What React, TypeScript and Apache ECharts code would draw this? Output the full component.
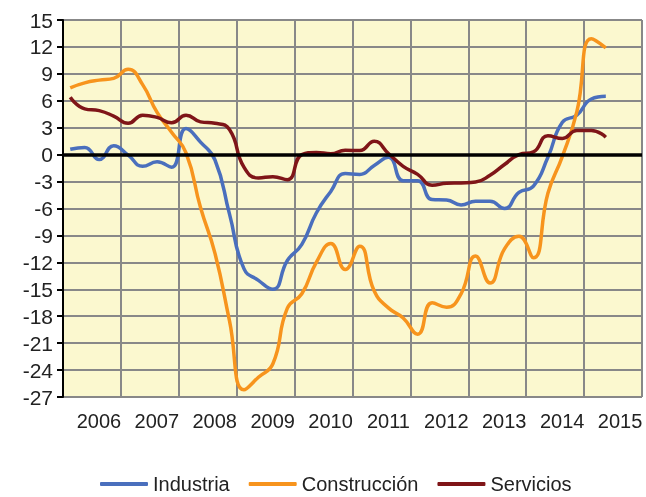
import React, { useEffect, useRef } from "react";
import * as echarts from "echarts";

const years = ["2006", "2007", "2008", "2009", "2010", "2011", "2012", "2013", "2014", "2015"];
// quarterly observations from 2006 Q1 to 2015 Q2
const quarters = [
  "2006T1", "2006T2", "2006T3", "2006T4",
  "2007T1", "2007T2", "2007T3", "2007T4",
  "2008T1", "2008T2", "2008T3", "2008T4",
  "2009T1", "2009T2", "2009T3", "2009T4",
  "2010T1", "2010T2", "2010T3", "2010T4",
  "2011T1", "2011T2", "2011T3", "2011T4",
  "2012T1", "2012T2", "2012T3", "2012T4",
  "2013T1", "2013T2", "2013T3", "2013T4",
  "2014T1", "2014T2", "2014T3", "2014T4",
  "2015T1", "2015T2",
];
const industria = [
  0.6, 0.8, -0.55, 1.0, -0.05, -1.3, -0.8, -1.4,
  2.9, 1.4, -0.6, -6.6, -12.7, -14.0, -15.0, -11.8,
  -10.0, -6.5, -4.1, -2.1, -2.2, -1.2, -0.3, -2.9,
  -2.9, -5.0, -5.05, -5.6, -5.2, -5.2, -6.0, -4.2,
  -3.5, -0.3, 3.6, 4.4, 6.2, 6.5,
];
const construccion = [
  7.45, 8.0, 8.3, 8.5, 9.5, 7.8, 4.7, 2.5,
  0.2, -5.9, -11.0, -18.5, -26.2, -24.8, -23.3, -17.1,
  -15.5, -12.0, -9.9, -12.8, -10.2, -15.2, -17.1, -18.2,
  -20.0, -16.5, -17.0, -15.5, -11.3, -14.3, -10.5, -9.1,
  -11.5, -4.3, -0.2, 4.8, 12.9, 11.9,
];
const servicios = [
  6.4, 5.1, 4.9, 4.3, 3.5, 4.4, 4.15, 3.55,
  4.4, 3.65, 3.5, 2.8, -1.4, -2.6, -2.45, -2.8,
  0.0, 0.25, 0.1, 0.5, 0.45, 1.5, 0.1, -1.3,
  -2.2, -3.4, -3.2, -3.15, -3.05, -2.3, -1.1, 0.0,
  0.3, 2.1, 1.8, 2.7, 2.7, 1.95,
];
const yTicks = { min: -27, max: 15, interval: 3 };
const seriesNames = ["Industria", "Construcción", "Servicios"];
const colors = ["#4a6fbd", "#f7941d", "#7f1518"];

const FONT = "'Liberation Sans', Arial, sans-serif";

function pos(q: string): number {
  const y = years.indexOf(q.slice(0, 4));
  const n = parseInt(q.slice(5), 10);
  return y + (n - 0.5) / 4;
}

export default function App() {
  const ref = useRef<HTMLDivElement>(null);
  useEffect(() => {
    if (!ref.current) return;
    const chart = echarts.init(ref.current, null, { renderer: "svg" });
    const datas = [industria, construccion, servicios];
    chart.setOption({
      animation: false,
      textStyle: { fontFamily: FONT },
      grid: {
        left: 63,
        right: 4,
        top: 20,
        bottom: 100,
        show: true,
        backgroundColor: "#fbf8cf",
        borderWidth: 0,
      },
      legend: {
        data: seriesNames,
        left: 100,
        top: 474,
        padding: 0,
        icon: "roundRect",
        itemWidth: 48,
        itemHeight: 4,
        itemGap: 19,
        textStyle: { fontSize: 20, color: "#222", fontFamily: FONT, lineHeight: 20 },
      },
      xAxis: [
        {
          type: "category",
          data: years,
          boundaryGap: true,
          axisLine: { show: false },
          axisTick: { show: false },
          axisLabel: {
            interval: 0,
            fontSize: 20,
            color: "#222",
            fontFamily: FONT,
            margin: 14,
            padding: [0, 0, 0, 14],
          },
          splitLine: { show: true, interval: 0, lineStyle: { color: "#888", width: 2 } },
        },
        {
          type: "value",
          min: 0,
          max: years.length,
          show: false,
          splitLine: { show: false },
        },
      ],
      yAxis: {
        type: "value",
        min: yTicks.min,
        max: yTicks.max,
        interval: yTicks.interval,
        axisLine: { show: true, lineStyle: { color: "#000", width: 2 } },
        axisTick: { show: true, inside: false, length: 6, lineStyle: { color: "#000", width: 2 } },
        axisLabel: { fontSize: 21, color: "#222", fontFamily: FONT, margin: 10 },
        splitLine: { show: true, lineStyle: { color: "#888", width: 2 } },
      },
      series: [
        {
          type: "line",
          name: "zero",
          xAxisIndex: 1,
          data: [],
          z: 1,
          markLine: {
            silent: true,
            symbol: "none",
            label: { show: false },
            lineStyle: { color: "#000", width: 3.5, type: "solid" },
            data: [{ yAxis: 0 }],
          },
        },
        ...seriesNames.map((name, i) => ({
          type: "line",
          name,
          xAxisIndex: 1,
          z: 3,
          smooth: 0.5,
          symbol: "none",
          showSymbol: false,
          color: colors[i],
          lineStyle: { width: 3.5, color: colors[i] },
          data: quarters.map((q, k) => [pos(q), datas[i][k]]),
        })),
      ],
    });
    return () => chart.dispose();
  }, []);
  return (
    <div
      ref={ref}
      style={{ position: "fixed", left: 0, top: 0, width: 646, height: 497 }}
    />
  );
}
